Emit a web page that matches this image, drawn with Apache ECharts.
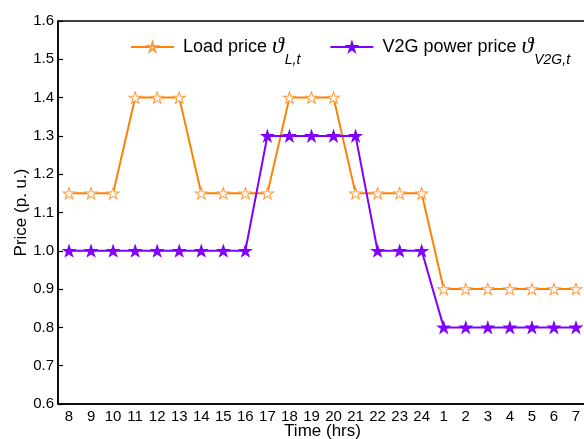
<!DOCTYPE html>
<html><head><meta charset="utf-8">
<script src="https://cdn.jsdelivr.net/npm/echarts@6/dist/echarts.min.js"></script>
<style>html,body{margin:0;padding:0;background:#fff}#c{width:584px;height:439px}</style>
</head><body><div id="c"></div>
<script>
const hours = ['8','9','10','11','12','13','14','15','16','17','18','19','20','21','22','23','24','1','2','3','4','5','6','7'];
const loadPrice = [1.15,1.15,1.15,1.4,1.4,1.4,1.15,1.15,1.15,1.15,1.4,1.4,1.4,1.15,1.15,1.15,1.15,0.9,0.9,0.9,0.9,0.9,0.9,0.9];
const v2gPrice = [1.0,1.0,1.0,1.0,1.0,1.0,1.0,1.0,1.0,1.3,1.3,1.3,1.3,1.3,1.0,1.0,1.0,0.8,0.8,0.8,0.8,0.8,0.8,0.8];
const yTicks = [0.6,0.7,0.8,0.9,1.0,1.1,1.2,1.3,1.4,1.5,1.6];

const star = 'path://M50 0 L61.23 34.55 L97.55 34.55 L68.17 55.9 L79.39 90.45 L50 69.1 L20.61 90.45 L31.83 55.9 L2.45 34.55 L38.77 34.55 Z';
const F = 'Liberation Sans, Arial, sans-serif';
const chart = echarts.init(document.getElementById('c'), null, {renderer:'canvas'});
const rich = {
  n:{fontFamily:F,fontSize:18,color:'#000',lineHeight:48,verticalAlign:'middle',padding:[0,0,0,4]},
  th:{fontFamily:'Liberation Serif, DejaVu Serif, serif',fontStyle:'italic',fontSize:24,color:'#000',lineHeight:48,verticalAlign:'middle'},
  sub:{fontFamily:F,fontStyle:'italic',fontSize:14,color:'#000',lineHeight:14,verticalAlign:'bottom',padding:[0,0,4,1]}
};
chart.setOption({
  animation:false,
  backgroundColor:'#fff',
  grid:{left:58,right:-3,top:21,bottom:35,outerBoundsMode:'none',containLabel:false,show:true,borderColor:'#000',borderWidth:1.5,backgroundColor:'transparent'},
  legend:{
    left:125, top:30, itemWidth:43, itemHeight:11, itemGap:29,
    textStyle:{rich:rich},
    formatter:function(name){
      if(name==='Load price') return '{n|Load price }{th|ϑ}{sub|L,t}';
      return '{n|V2G power price }{th|ϑ}{sub|V2G,t}';
    },
    data:['Load price','V2G power price']
  },
  xAxis:{
    type:'category', data:hours, boundaryGap:true,
    name:'Time (hrs)', nameLocation:'middle', nameGap:19, nameMoveOverlap:false,
    nameTextStyle:{fontFamily:F,fontSize:17,color:'#000'},
    axisLine:{lineStyle:{color:'#000',width:1.5}},
    axisTick:{inside:true,length:5,alignWithLabel:true,lineStyle:{color:'#000',width:1.2}},
    axisLabel:{fontFamily:F,fontSize:15,color:'#000',margin:5,interval:0},
    splitLine:{show:false}
  },
  yAxis:{
    type:'value', min:yTicks[0], max:yTicks[yTicks.length-1], interval:0.1,
    name:'Price (p. u.)', nameLocation:'middle', nameGap:28, nameMoveOverlap:false,
    nameTextStyle:{fontFamily:F,fontSize:17,color:'#000'},
    axisLine:{show:true,lineStyle:{color:'#000',width:1.5}},
    axisTick:{show:true,inside:true,length:5,lineStyle:{color:'#000',width:1.2}},
    axisLabel:{fontFamily:F,fontSize:15,color:'#000',margin:4,formatter:v=>v.toFixed(1)},
    splitLine:{show:false}
  },
  series:[
    {name:'Load price',type:'line',data:loadPrice,symbol:star,symbolSize:[12,11.4],showAllSymbol:true,
     lineStyle:{color:'#FF8000',width:2},
     itemStyle:{color:'#fff',borderColor:'#FF9A40',borderWidth:1},
     color:'#FF8000'},
    {name:'V2G power price',type:'line',data:v2gPrice,symbol:star,symbolSize:[12,11.4],showAllSymbol:true,
     lineStyle:{color:'#8000FF',width:2},
     itemStyle:{color:'#8000FF',borderColor:'#8000FF',borderWidth:1},
     color:'#8000FF'}
  ]
});
</script></body></html>
